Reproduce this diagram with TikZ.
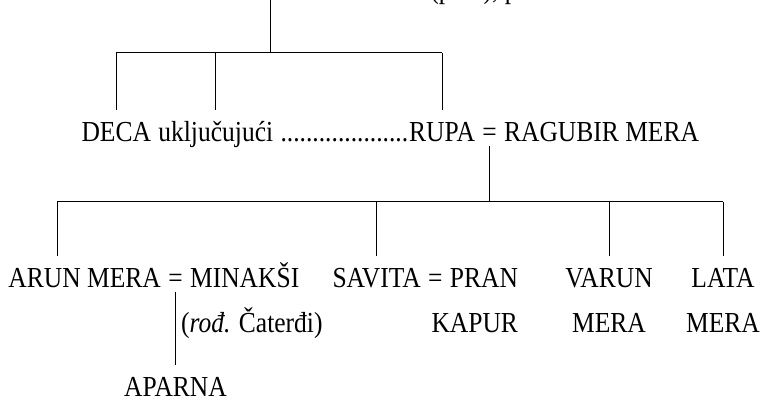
\documentclass[tikz,border=0pt]{standalone}
\usepackage{fontspec}
\setmainfont{Liberation Serif}[FakeStretch=0.88]
\usetikzlibrary{positioning}
\tikzset{ime/.style={inner sep=0pt, text height=20pt, text depth=4pt,
  font=\fontsize{29}{34}\selectfont},
  grana/.style={shorten >=11pt}}

\begin{document}
\begin{tikzpicture}[x=1pt, y=-1pt, line width=1pt]
\useasboundingbox (0,0) rectangle (761,401);
  \coordinate (bar1) at (0,53);
  \coordinate (bar2) at (0,202);
  \coordinate (red3) at (0,332);
  \coordinate (red4) at (0,396);
  \coordinate (vrhlinija) at (270,-2);
  \node[ime, anchor=base west] (vrh) at (93,-1) {KIŠEN ČAND SET = LAKŠMI (pok.), potom PARVATI};
% deca
  \node[ime, anchor=base west] (deca) at (81,142) {DECA};
  \node[ime, base right=6.4pt of deca] (uklj) {uključujući};
  \node[ime, base right=6.4pt of uklj] (tacke) {....................};
  \node[ime, base right=0pt of tacke] (rupa) {RUPA};
  \node[ime, base right=6.4pt of rupa] (jed1) {=};
  \node[ime, base right=6.4pt of jed1] (ragubir) {RAGUBIR MERA};
  \draw (vrhlinija) -- (vrhlinija |- bar1);
  \draw (deca.north |- bar1) -- (rupa.north |- bar1);
  \foreach \n in {deca, uklj, rupa}
    \draw[grana] (\n.north |- bar1) -- (\n.north);
% unuci
  \node[ime, anchor=base west] (arun) at (8,287) {ARUN MERA};
  \node[ime, base right=6.4pt of arun] (jed2) {=};
  \node[ime, base right=6.4pt of jed2] (minaksi) {MINAKŠI};
  \node[ime, anchor=base west] (savita) at (332,287) {SAVITA};
  \node[ime, base right=6.4pt of savita] (jed3) {=};
  \node[ime, base right=6.4pt of jed3] (pran) {PRAN};
  \node[ime, anchor=base] (varun) at (609,287) {VARUN};
  \node[ime, anchor=base] (lata) at (723,287) {LATA};
  \node[ime, anchor=base east] (kapur) at (pran.base east |- red3) {KAPUR};
  \node[ime, anchor=base] (mera1) at (varun.base |- red3) {MERA};
  \node[ime, anchor=base] (mera2) at (lata.base |- red3) {MERA};
  \node[ime, anchor=base west] (rod) at ([xshift=5pt]jed2.base |- red3) {(\textit{rođ.} Čaterđi)};
  \node[ime, anchor=base] (aparna) at (jed2.base |- red4) {APARNA};
  \coordinate (arunv) at ([xshift=49pt]arun.north west);
  \draw (jed1.south) -- (jed1.south |- bar2);
  \draw (arunv |- bar2) -- (lata.north |- bar2);
  \draw[grana] (arunv |- bar2) -- (arunv);
  \foreach \n in {savita, varun, lata}
    \draw[grana] (\n.north |- bar2) -- (\n.north);
  \draw[grana] (jed2.south) -- (aparna.north);
\end{tikzpicture}
\end{document}
